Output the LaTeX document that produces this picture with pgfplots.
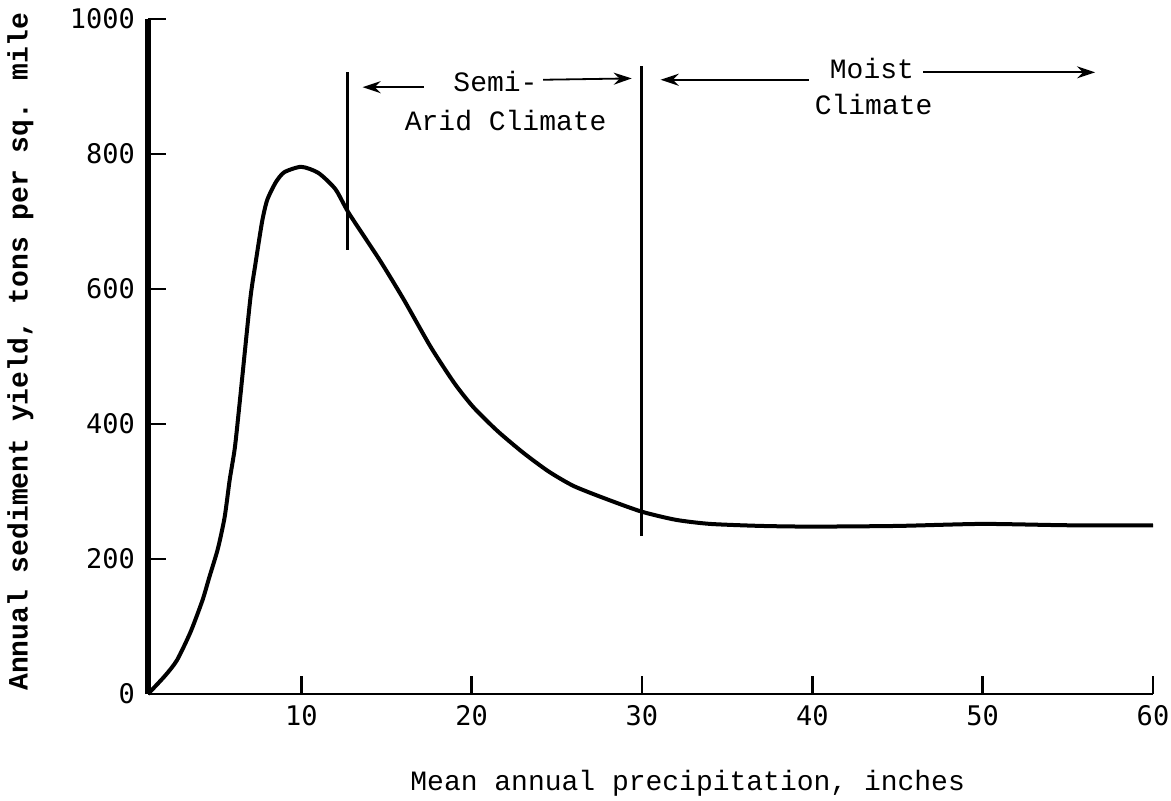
\documentclass[border=0pt]{standalone}
\usepackage{fontspec}
\usepackage{pgfplots}
\pgfplotsset{compat=1.18}
\usetikzlibrary{arrows.meta}
\setmainfont{Liberation Mono}
\newfontfamily\tickfont{DejaVu Sans Mono}

\begin{document}
\begin{tikzpicture}
\begin{axis}[
  name=ax,
  scale only axis,
  width=502.5pt, height=337.5pt,
  xmin=1, xmax=60, ymin=0, ymax=1000,
  axis lines*=left,
  axis line style={-},
  x axis line style={line width=1pt},
  y axis line style={line width=2.6pt},
  xtick={10,20,...,60}, ytick={0,200,...,1000},
  tick align=inside,
  major tick length=9pt,
  tick style={line width=1.2pt,black},
  /pgf/number format/assume math mode=true,
  /pgf/number format/1000 sep={},
  ticklabel style={font=\tickfont\fontsize{13.5}{13.5}\selectfont},
  yticklabel style={xshift=-3pt},
  xticklabel style={yshift=-2pt},
  xlabel={Mean annual precipitation, inches},
  ylabel={Annual sediment yield, tons per sq. mile},
  xlabel style={at={(axis description cs:0.537,0)},anchor=center,yshift=-44.5pt,font=\fontsize{14}{14}\selectfont},
  ylabel style={at={(axis description cs:-0.127,0.507)},anchor=center,font=\bfseries\fontsize{14}{14}\selectfont},
  clip=false,
]
% sediment yield curve
\addplot[line width=2pt, smooth, tension=0.4] coordinates {
  (1,0) (2,27) (2.7,50) (3.5,92) (4.2,139) (4.6,173) (5.1,215)
  (5.5,262) (5.8,318) (6.1,365) (6.4,436) (7.0,584) (7.3,636)
  (7.7,700) (8.0,732) (8.5,758) (9,773) (10,781) (11,772)
  (12,748) (12.8,712) (14.6,643) (16,585) (17.6,514) (19,460)
  (20.1,425) (21.5,390) (23,358) (24.5,330) (26,308) (28,288)
  (30,270) (32,258) (34,252) (37,249) (40,248) (45,249)
  (50,252) (55,250) (60,250)
};
% climate boundaries
\addplot[line width=1.5pt] coordinates {(12.7,658) (12.7,921)};
\addplot[line width=1.5pt] coordinates {(30,234) (30,930)};
% arrows
\addplot[line width=0.9pt, -{Stealth[length=9pt,width=6pt]}] coordinates {(17.2,899) (13.6,899)};
\addplot[line width=0.9pt, -{Stealth[length=9pt,width=6pt]}] coordinates {(24.2,910) (29.4,912)};
\addplot[line width=0.9pt, -{Stealth[length=9pt,width=6pt]}] coordinates {(39.8,910) (31.1,910)};
\addplot[line width=0.9pt, -{Stealth[length=9pt,width=6pt]}] coordinates {(46.5,921) (56.6,921)};
% labels
\node[font=\fontsize{14}{14}\selectfont] at (axis cs:21.4,907) {Semi-};
\node[font=\fontsize{14}{14}\selectfont] at (axis cs:22.0,850) {Arid Climate};
\node[font=\fontsize{14}{14}\selectfont] at (axis cs:43.5,927) {Moist};
\node[font=\fontsize{14}{14}\selectfont] at (axis cs:43.6,873) {Climate};
\end{axis}
\pgfresetboundingbox
\path ([shift={(-74pt,-53pt)}]ax.south west) rectangle ([shift={(9pt,9.5pt)}]ax.north east);
\end{tikzpicture}
\end{document}
